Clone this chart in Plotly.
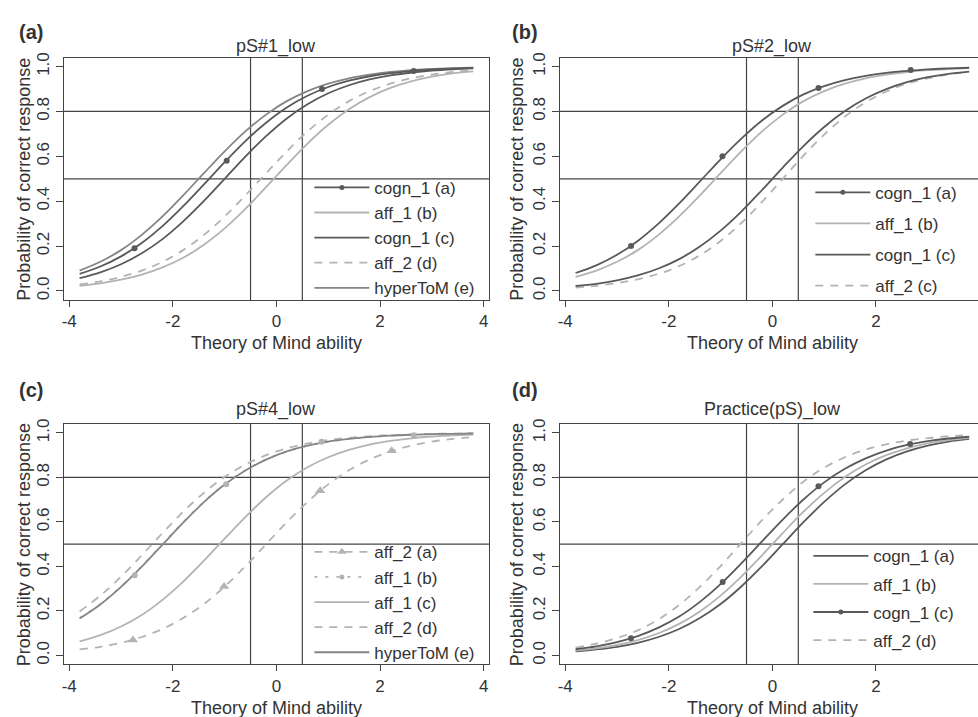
import plotly.graph_objects as go

W, H = 978, 717
FONT = "Liberation Sans, Arial, Helvetica, sans-serif"
TXT = "#333333"

# ---------------- data ----------------
X_GRID = [-3.8, -3.4, -3.0, -2.6, -2.2, -1.8, -1.4, -1.0, -0.6, -0.2,
          0.2, 0.6, 1.0, 1.4, 1.8, 2.2, 2.6, 3.0, 3.4, 3.8]

X_TICKS = [-4, -2, 0, 2, 4]
X_TICK_LABELS = ["-4", "-2", "0", "2", "4"]
Y_TICKS = [0.0, 0.2, 0.4, 0.6, 0.8, 1.0]
Y_TICK_LABELS = ["0.0", "0.2", "0.4", "0.6", "0.8", "1.0"]
REF_X = [-0.5, 0.5]
REF_Y = [0.5, 0.8]

PANEL_TITLES = ["pS#1_low", "pS#2_low", "pS#4_low", "Practice(pS)_low"]
PANEL_TAGS = ["(a)", "(b)", "(c)", "(d)"]
X_TITLE = "Theory of Mind ability"
Y_TITLE = "Probability of correct response"

# Panel (a)
A_NAMES = ["cogn_1 (a)", "aff_1 (b)", "cogn_1 (c)", "aff_2 (d)", "hyperToM (e)"]
A_COGN1_A = [0.076, 0.109, 0.154, 0.214, 0.289, 0.378, 0.475, 0.574, 0.668, 0.750,
             0.818, 0.870, 0.909, 0.937, 0.957, 0.971, 0.980, 0.987, 0.991, 0.994]
A_AFF1_B = [0.023, 0.034, 0.050, 0.073, 0.105, 0.148, 0.206, 0.279, 0.366, 0.463,
            0.562, 0.657, 0.741, 0.810, 0.864, 0.905, 0.934, 0.955, 0.970, 0.979]
A_COGN1_C = [0.057, 0.083, 0.119, 0.168, 0.231, 0.310, 0.401, 0.500, 0.599, 0.690,
             0.769, 0.832, 0.881, 0.917, 0.943, 0.961, 0.973, 0.982, 0.988, 0.992]
A_AFF2_D = [0.029, 0.043, 0.063, 0.091, 0.130, 0.182, 0.250, 0.332, 0.426, 0.525,
            0.622, 0.711, 0.786, 0.846, 0.891, 0.924, 0.948, 0.964, 0.976, 0.984]
A_HYPER_E = [0.091, 0.130, 0.182, 0.250, 0.332, 0.426, 0.525, 0.622, 0.711, 0.786,
             0.846, 0.891, 0.924, 0.948, 0.964, 0.976, 0.984, 0.989, 0.993, 0.995]
A_MARK_X = [-2.74, -0.96, 0.88, 2.65]
A_MARK_Y = [0.19, 0.58, 0.90, 0.98]

# Panel (b)
B_NAMES = ["cogn_1 (a)", "aff_1 (b)", "cogn_1 (c)", "aff_2 (c)"]
B_COGN1_A = [0.080, 0.114, 0.161, 0.223, 0.300, 0.390, 0.488, 0.587, 0.679, 0.760,
             0.825, 0.876, 0.913, 0.940, 0.959, 0.972, 0.981, 0.988, 0.992, 0.995]
B_AFF1_B = [0.063, 0.091, 0.130, 0.182, 0.250, 0.332, 0.426, 0.525, 0.622, 0.711,
            0.786, 0.846, 0.891, 0.924, 0.948, 0.964, 0.976, 0.984, 0.989, 0.993]
B_COGN1_C = [0.022, 0.032, 0.047, 0.069, 0.100, 0.142, 0.198, 0.269, 0.354, 0.450,
             0.550, 0.646, 0.731, 0.802, 0.858, 0.900, 0.931, 0.953, 0.968, 0.978]
B_AFF2_C = [0.015, 0.023, 0.035, 0.052, 0.076, 0.111, 0.159, 0.223, 0.303, 0.397,
            0.500, 0.603, 0.697, 0.777, 0.841, 0.889, 0.924, 0.948, 0.965, 0.977]
B_MARK_X = [-2.73, -0.965, 0.89, 2.67]
B_MARK_Y = [0.20, 0.60, 0.905, 0.985]

# Panel (c)
C_NAMES = ["aff_2 (a)", "aff_1 (b)", "aff_1 (c)", "aff_2 (d)", "hyperToM (e)"]
C_AFF2_A = [0.027, 0.039, 0.057, 0.083, 0.119, 0.168, 0.231, 0.310, 0.401, 0.500,
            0.599, 0.690, 0.769, 0.832, 0.881, 0.917, 0.943, 0.961, 0.973, 0.982]
C_AFF1_B = [0.168, 0.231, 0.310, 0.401, 0.500, 0.599, 0.690, 0.769, 0.832, 0.881,
            0.917, 0.943, 0.961, 0.973, 0.982, 0.988, 0.992, 0.995, 0.996, 0.998]
C_AFF1_C = [0.063, 0.091, 0.130, 0.182, 0.250, 0.332, 0.426, 0.525, 0.622, 0.711,
            0.786, 0.846, 0.891, 0.924, 0.948, 0.964, 0.976, 0.984, 0.989, 0.993]
C_AFF2_D = [0.198, 0.269, 0.354, 0.450, 0.550, 0.646, 0.731, 0.802, 0.858, 0.900,
            0.931, 0.953, 0.968, 0.978, 0.985, 0.990, 0.993, 0.996, 0.997, 0.998]
C_HYPER_E = [0.166, 0.229, 0.308, 0.399, 0.498, 0.597, 0.689, 0.768, 0.831, 0.880,
             0.917, 0.943, 0.961, 0.973, 0.982, 0.988, 0.992, 0.995, 0.996, 0.998]
C_MARK_A_X = [-2.77, -1.01, 0.845, 2.225]
C_MARK_A_Y = [0.07, 0.31, 0.74, 0.92]
C_MARK_B_X = [-2.735, -0.97, 0.87, 2.655]
C_MARK_B_Y = [0.36, 0.77, 0.96, 0.99]

# Panel (d)
D_NAMES = ["cogn_1 (a)", "aff_1 (b)", "cogn_1 (c)", "aff_2 (d)"]
D_COGN1_A = [0.018, 0.027, 0.039, 0.057, 0.083, 0.119, 0.168, 0.231, 0.310, 0.401,
             0.500, 0.599, 0.690, 0.769, 0.832, 0.881, 0.917, 0.943, 0.961, 0.973]
D_AFF1_B = [0.022, 0.032, 0.047, 0.069, 0.100, 0.142, 0.198, 0.269, 0.354, 0.450,
            0.550, 0.646, 0.731, 0.802, 0.858, 0.900, 0.931, 0.953, 0.968, 0.978]
D_COGN1_C = [0.028, 0.041, 0.060, 0.087, 0.125, 0.175, 0.241, 0.321, 0.414, 0.513,
             0.611, 0.701, 0.778, 0.839, 0.886, 0.921, 0.946, 0.963, 0.975, 0.983]
D_AFF2_D = [0.035, 0.053, 0.078, 0.113, 0.162, 0.227, 0.308, 0.402, 0.505, 0.608,
            0.701, 0.781, 0.844, 0.891, 0.925, 0.949, 0.966, 0.977, 0.985, 0.990]
D_MARK_X = [-2.73, -0.96, 0.89, 2.66]
D_MARK_Y = [0.077, 0.33, 0.76, 0.95]

# ---------------- styles ----------------
STYLE = {
    "dark": dict(color="#595959", dash="solid", width=1.8),
    "medium": dict(color="#858585", dash="solid", width=1.8),
    "light": dict(color="#b3b3b3", dash="solid", width=1.8),
    "lightdash": dict(color="#b3b3b3", dash="8px,7px", width=1.8),
    "lightdot": dict(color="#b3b3b3", dash="3px,8px", width=1.8),
}

PANELS = [
    dict(names=A_NAMES, ys=[A_COGN1_A, A_AFF1_B, A_COGN1_C, A_AFF2_D, A_HYPER_E],
         styles=["dark", "light", "dark", "lightdash", "medium"],
         marks={0: (A_MARK_X, A_MARK_Y, "circle", 6)},
         order=[4, 3, 1, 2, 0]),
    dict(names=B_NAMES, ys=[B_COGN1_A, B_AFF1_B, B_COGN1_C, B_AFF2_C],
         styles=["dark", "light", "dark", "lightdash"],
         marks={0: (B_MARK_X, B_MARK_Y, "circle", 6)},
         order=[3, 2, 1, 0]),
    dict(names=C_NAMES, ys=[C_AFF2_A, C_AFF1_B, C_AFF1_C, C_AFF2_D, C_HYPER_E],
         styles=["lightdash", "lightdot", "light", "lightdash", "medium"],
         marks={0: (C_MARK_A_X, C_MARK_A_Y, "triangle-up", 9),
                1: (C_MARK_B_X, C_MARK_B_Y, "circle", 6)},
         order=[3, 2, 0, 1, 4]),
    dict(names=D_NAMES, ys=[D_COGN1_A, D_AFF1_B, D_COGN1_C, D_AFF2_D],
         styles=["dark", "light", "dark", "lightdash"],
         marks={2: (D_MARK_X, D_MARK_Y, "circle", 6)},
         order=[3, 0, 1, 2]),
]

# ---------------- layout geometry (pixels) ----------------
def px_x(v):
    return v / W

def px_y(v):
    return 1 - v / H

X_DOMS = [(62, 488), (559, 978), (62, 488), (559, 978)]
Y_DOMS = [(53, 297), (53, 297), (422, 664), (422, 664)]
X_RANGES = [[-4.104, 4.104], [-4.104, 3.97], [-4.104, 4.104], [-4.104, 3.97]]
Y_RANGE = [-0.04, 1.04]
TAG_POS = [(15, 27), (509, 27), (15, 388), (509, 388)]
TITLE_Y = [41.5, 41.5, 407, 407]
XTITLE_Y = [340, 340, 708, 708]
YTITLE_X = [22, 516, 22, 516]
LEG_POS = [(308, 166), (810, 171), (308, 533), (808, 537)]
LEG_GAP = [0, 6, 0, 3]

fig = go.Figure()
layout = dict(width=W, height=H, margin=dict(l=0, r=0, t=0, b=0),
              paper_bgcolor="white", plot_bgcolor="white",
              font=dict(family=FONT, size=17, color=TXT))
shapes, annotations = [], []

for i, p in enumerate(PANELS):
    k = i + 1
    xa = "x" if k == 1 else f"x{k}"
    ya = "y" if k == 1 else f"y{k}"
    lg = "legend" if k == 1 else f"legend{k}"
    xkey = "xaxis" if k == 1 else f"xaxis{k}"
    ykey = "yaxis" if k == 1 else f"yaxis{k}"

    # curves
    for j in p["order"]:
        st = STYLE[p["styles"][j]]
        fig.add_trace(go.Scatter(
            x=X_GRID, y=p["ys"][j], mode="lines", xaxis=xa, yaxis=ya,
            line=dict(color=st["color"], dash=st["dash"], width=st["width"], shape="spline", smoothing=1.0),
            showlegend=False, hoverinfo="skip"))
    for j, (mx, my, sym, sz) in p["marks"].items():
        st = STYLE[p["styles"][j]]
        fig.add_trace(go.Scatter(
            x=mx, y=my, mode="markers", xaxis=xa, yaxis=ya,
            marker=dict(symbol=sym, size=sz, color=st["color"]),
            showlegend=False, hoverinfo="skip"))
    # legend entries
    for j, name in enumerate(p["names"]):
        st = STYLE[p["styles"][j]]
        mk = p["marks"].get(j)
        fig.add_trace(go.Scatter(
            x=[None], y=[None], xaxis=xa, yaxis=ya, name=name,
            mode="lines+markers" if mk else "lines",
            line=dict(color=st["color"], dash=st["dash"], width=st["width"]),
            marker=dict(symbol=mk[2] if mk else "circle", size=(mk[3] - 1) if mk else 6,
                        color=st["color"]),
            legend=lg, legendgroup=f"g{k}_{j}", showlegend=True))

    lx, ly = LEG_POS[i]
    layout[lg] = dict(x=px_x(lx), y=px_y(ly), xanchor="left", yanchor="top",
                      bgcolor="rgba(0,0,0,0)", borderwidth=0, itemwidth=55,
                      tracegroupgap=LEG_GAP[i], traceorder="grouped",
                      font=dict(family=FONT, size=17, color=TXT))

    layout[xkey] = dict(domain=[px_x(X_DOMS[i][0]), px_x(X_DOMS[i][1])], anchor=ya,
                        range=X_RANGES[i], tickvals=X_TICKS, ticktext=X_TICK_LABELS,
                        showgrid=False, zeroline=False, showline=True, mirror=True,
                        linecolor="#444444", linewidth=1, ticks="outside", ticklen=6,
                        tickcolor="#444444", tickfont=dict(size=17, color=TXT))
    layout[ykey] = dict(domain=[px_y(Y_DOMS[i][1]), px_y(Y_DOMS[i][0])], anchor=xa,
                        range=Y_RANGE, tickvals=Y_TICKS, ticktext=Y_TICK_LABELS,
                        tickangle=-90, showgrid=False, zeroline=False, showline=True,
                        mirror=(k in (1, 3)), linecolor="#444444", linewidth=1,
                        ticks="outside", ticklen=7, tickcolor="#444444",
                        tickfont=dict(size=17, color=TXT))

    # reference lines
    dom_x = "x domain" if k == 1 else f"x{k} domain"
    dom_y = "y domain" if k == 1 else f"y{k} domain"
    for xv in REF_X:
        shapes.append(dict(type="line", xref=xa, yref=dom_y, x0=xv, x1=xv, y0=0, y1=1,
                           line=dict(color="#444444", width=1.2), layer="below"))
    for yv in REF_Y:
        shapes.append(dict(type="line", xref=dom_x, yref=ya, x0=0, x1=1, y0=yv, y1=yv,
                           line=dict(color="#444444", width=1.2), layer="below"))

    # texts
    tx, ty = TAG_POS[i]
    annotations.append(dict(text=f"<b>{PANEL_TAGS[i]}</b>", xref="paper", yref="paper",
                            x=px_x(tx), y=px_y(ty), xanchor="left", yanchor="middle",
                            showarrow=False, font=dict(size=20, color=TXT, family=FONT)))
    annotations.append(dict(text=PANEL_TITLES[i], xref=xa, yref="paper", x=0,
                            y=px_y(TITLE_Y[i]), xanchor="center", yanchor="middle",
                            showarrow=False, font=dict(size=18, color=TXT, family=FONT)))
    annotations.append(dict(text=X_TITLE, xref=xa, yref="paper", x=0,
                            y=px_y(XTITLE_Y[i]), xanchor="center", yanchor="middle",
                            showarrow=False, font=dict(size=18, color=TXT, family=FONT)))
    annotations.append(dict(text=Y_TITLE, xref="paper", yref="paper", x=px_x(YTITLE_X[i]),
                            y=px_y((Y_DOMS[i][0] + Y_DOMS[i][1]) / 2), textangle=-90,
                            xanchor="center", yanchor="middle", showarrow=False,
                            font=dict(size=18, color=TXT, family=FONT)))

layout["shapes"] = shapes
layout["annotations"] = annotations
fig.update_layout(**layout)
fig.write_html("out.html")
